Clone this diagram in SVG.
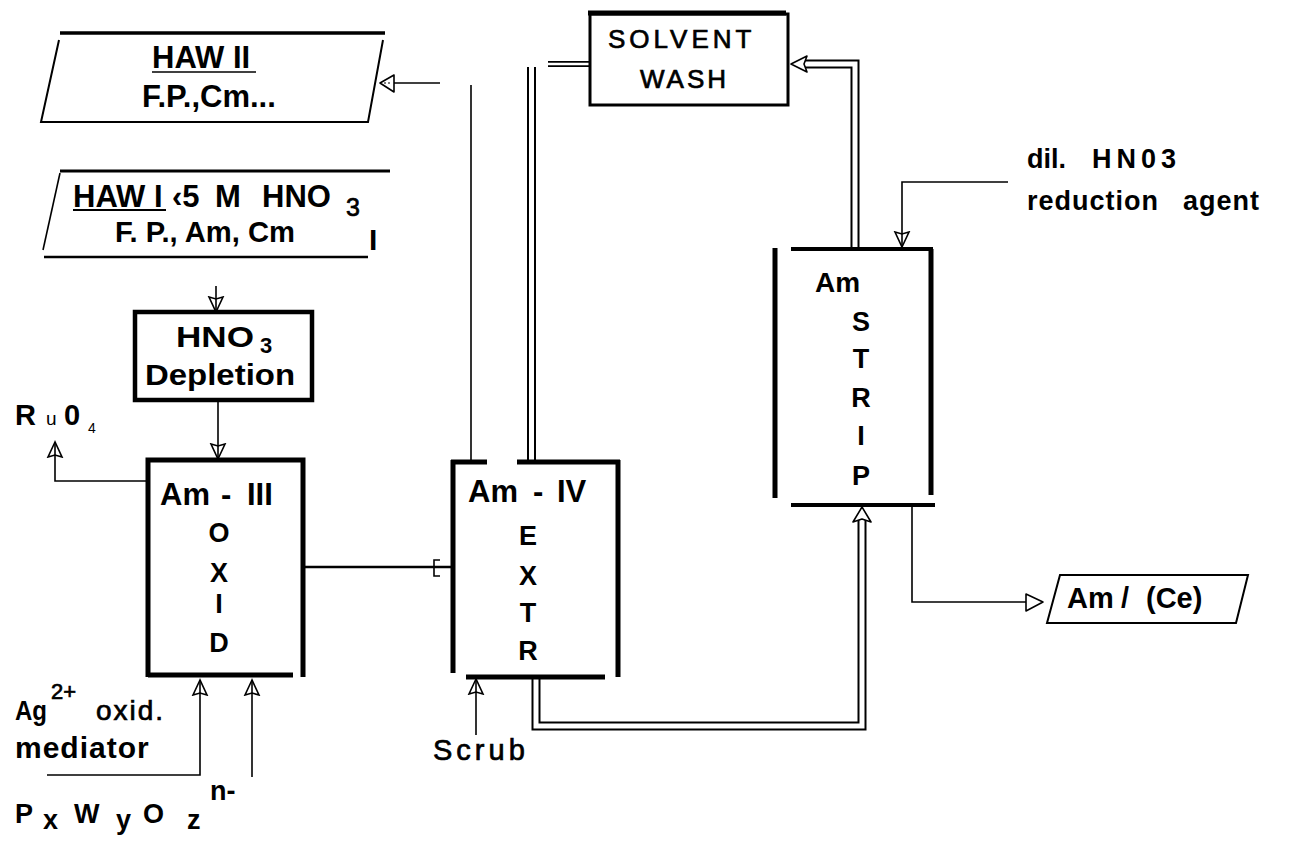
<svg xmlns="http://www.w3.org/2000/svg" width="1295" height="841" viewBox="0 0 1295 841">
<style>
text{font-family:"Liberation Sans",Arial,sans-serif;fill:#000}
.b{font-weight:bold;font-size:30px}
.r{font-weight:normal}
.m{stroke:#000;stroke-width:0.7}
.thin{fill:none;stroke:#000;stroke-width:1.6}
.thick{fill:none;stroke:#000;stroke-width:5}
.dblo{fill:none;stroke:#000;stroke-width:9}
.dbli{fill:none;stroke:#fff;stroke-width:5}
.head{fill:#fff;stroke:#000;stroke-width:1.6;stroke-linejoin:round}
</style>
<defs>
<marker id="v" markerUnits="userSpaceOnUse" markerWidth="20" markerHeight="20" refX="16" refY="8" orient="auto" viewBox="0 0 20 16">
<path d="M16,8 L1,1 L3,8 L1,15 Z" fill="none" stroke="#000" stroke-width="1.6"/>
</marker>
</defs>
<rect width="1295" height="841" fill="#fff"/>

<g id="connectors">
<line class="thin" x1="440" y1="83" x2="394" y2="83"/>
<polygon class="head" points="380,83 394,75 394,92"/>
<line x1="384" y1="83" x2="392" y2="83" stroke="#000" stroke-width="1" stroke-dasharray="2,2"/>
<line class="thin" x1="471" y1="85" x2="471" y2="462"/>
<line class="thin" x1="216" y1="286" x2="216" y2="312" marker-end="url(#v)"/>
<line class="thin" x1="218" y1="400" x2="218" y2="459" marker-end="url(#v)"/>
<path class="thin" d="M146,481 H55 V442" marker-end="url(#v)"/>
<line x1="303" y1="567" x2="452" y2="567" stroke="#000" stroke-width="2.5"/>
<path d="M440,560 L434,560 L434,576 L440,576 M434,567 L441,567" fill="none" stroke="#000" stroke-width="1.6"/>
<line class="dblo" x1="531.5" y1="67" x2="531.5" y2="462"/>
<line class="dbli" x1="531.5" y1="67" x2="531.5" y2="462"/>
<line x1="548" y1="64" x2="589" y2="64" stroke="#000" stroke-width="6"/>
<line x1="548" y1="64" x2="589" y2="64" stroke="#fff" stroke-width="2.6"/>
<path class="dblo" d="M855,248 V64 H804"/>
<path class="dbli" d="M855,250 V64 H804"/>
<polygon class="head" points="791,64 807,56 804,64 807,72"/>
<path class="thin" d="M1008,182 H902 V247" marker-end="url(#v)"/>
<path class="dblo" d="M536,678 V726 H862 V520"/>
<path class="dbli" d="M536,676 V726 H862 V518"/>
<polygon class="head" points="862,507 853,522 862,519 871,522"/>
<line class="thin" x1="476" y1="735" x2="476" y2="679" marker-end="url(#v)"/>
<path class="thin" d="M912,506 V602 H1026"/>
<polygon class="head" points="1043,602 1026,594 1026,611"/>
<path class="thin" d="M47,775 H200 V680" marker-end="url(#v)"/>
<line class="thin" x1="252" y1="777" x2="252" y2="680" marker-end="url(#v)"/>
</g>

<g id="haw2">
<line x1="60" y1="33" x2="385" y2="33" stroke="#000" stroke-width="3.5"/>
<path class="thin" d="M59,40 L41,122 L368,122 L383,40" style="stroke-width:2"/>
<text class="b" x="152" y="68" style="font-size:31px">HAW II</text>
<line x1="152" y1="72" x2="256" y2="72" stroke="#000" stroke-width="1.6"/>
<text class="b" x="142" y="107" style="font-size:31px">F.P.,Cm...</text>
</g>

<g id="haw1">
<line x1="60" y1="171" x2="390" y2="171" stroke="#000" stroke-width="3"/>
<line class="thin" x1="60" y1="173" x2="43" y2="250"/>
<line x1="44" y1="257" x2="368" y2="257" stroke="#000" stroke-width="2.5"/>
<text class="b" x="73" y="207" style="font-size:31px">HAW I</text>
<line x1="73" y1="210" x2="166" y2="210" stroke="#000" stroke-width="2"/>
<text class="b" y="207" style="font-size:31px"><tspan x="172">‹5</tspan><tspan x="215">M</tspan><tspan x="262">HNO</tspan></text>
<text class="m" x="346" y="216" style="font-size:25px">3</text>
<text class="b" x="115" y="242" style="font-size:30px" textLength="180" lengthAdjust="spacingAndGlyphs">F. P., Am, Cm</text>
<text class="b" x="369" y="250" style="font-size:30px">I</text>
</g>

<g id="depletion">
<rect x="135" y="312" width="177" height="88" fill="none" stroke="#000" stroke-width="4.5"/>
<text class="b" x="176" y="347" textLength="78" lengthAdjust="spacingAndGlyphs">HNO</text>
<text class="b" x="260" y="353" style="font-size:22px">3</text>
<text class="b" x="145" y="385" textLength="150" lengthAdjust="spacingAndGlyphs">Depletion</text>
</g>

<g id="ruo4">
<text class="b" y="425" style="font-size:29px"><tspan x="15">R</tspan><tspan x="46" class="r" style="font-size:19px">u</tspan><tspan x="64">0</tspan><tspan x="88" y="433" class="r" style="font-size:14px">4</tspan></text>
</g>

<g id="oxid">
<path class="thick" d="M148,677 V460 H303 V677"/>
<line x1="148" y1="675" x2="293" y2="675" stroke="#000" stroke-width="5"/>
<text class="b" y="505" style="font-size:31px"><tspan x="160">Am</tspan><tspan x="221">-</tspan><tspan x="247">III</tspan></text>
<g class="b" text-anchor="middle" style="font-size:27px">
<text x="219" y="542">O</text>
<text x="219" y="582">X</text>
<text x="219" y="613">I</text>
<text x="219" y="652">D</text>
</g>
</g>

<g id="extr">
<line x1="453" y1="460" x2="453" y2="673" stroke="#000" stroke-width="5"/>
<line x1="451" y1="462" x2="487" y2="462" stroke="#000" stroke-width="5"/>
<line x1="517" y1="462" x2="620" y2="462" stroke="#000" stroke-width="5"/>
<line x1="618" y1="460" x2="618" y2="677" stroke="#000" stroke-width="5"/>
<line x1="466" y1="677" x2="605" y2="677" stroke="#000" stroke-width="5"/>
<text class="b" y="502" style="font-size:31px"><tspan x="468">Am</tspan><tspan x="533">-</tspan><tspan x="557">IV</tspan></text>
<g class="b" text-anchor="middle" style="font-size:27px">
<text x="528" y="545">E</text>
<text x="528" y="585">X</text>
<text x="528" y="622">T</text>
<text x="528" y="660">R</text>
</g>
</g>

<g id="solvent-wash">
<rect x="590" y="14" width="198" height="91" fill="none" stroke="#000" stroke-width="3"/>
<line x1="588" y1="13" x2="786" y2="13" stroke="#000" stroke-width="5"/>
<text class="m" x="608" y="48" style="font-size:26px;letter-spacing:4px">SOLVENT</text>
<text class="m" x="640" y="88" style="font-size:26px;letter-spacing:3px">WASH</text>
</g>

<g id="strip">
<line x1="775" y1="248" x2="775" y2="498" stroke="#000" stroke-width="5"/>
<line x1="791" y1="249" x2="933" y2="249" stroke="#000" stroke-width="4"/>
<line x1="931" y1="249" x2="931" y2="495" stroke="#000" stroke-width="5"/>
<line x1="791" y1="505" x2="935" y2="505" stroke="#000" stroke-width="4"/>
<text class="b" x="815" y="292" style="font-size:28px">Am</text>
<g class="b" text-anchor="middle" style="font-size:27px">
<text x="861" y="331">S</text>
<text x="861" y="368">T</text>
<text x="861" y="407">R</text>
<text x="861" y="445">I</text>
<text x="861" y="485">P</text>
</g>
</g>

<g id="dil-hno3">
<text class="b" y="168" style="font-size:27px"><tspan x="1027">dil.</tspan><tspan x="1092" style="letter-spacing:5px">HN03</tspan></text>
<text class="b" y="210" style="font-size:27px;letter-spacing:1px"><tspan x="1027">reduction</tspan><tspan x="1183">agent</tspan></text>
</g>

<g id="am-ce">
<polygon points="1060,575 1248,575 1236,623 1047,623" fill="none" stroke="#000" stroke-width="2"/>
<text class="b" y="608" style="font-size:29px"><tspan x="1067">Am</tspan><tspan x="1121">/</tspan><tspan x="1146">(Ce)</tspan></text>
</g>

<g id="scrub">
<text class="m" x="433" y="760" style="font-size:29px;letter-spacing:4px">Scrub</text>
</g>

<g id="ag-mediator">
<text class="b" x="15" y="720" style="font-size:28px" textLength="32" lengthAdjust="spacingAndGlyphs">Ag</text>
<text class="m" x="51" y="699" style="font-size:22px">2+</text>
<text class="m" x="96" y="720" style="font-size:28px;letter-spacing:2px">oxid.</text>
<text class="b" x="15" y="758" style="font-size:30px;letter-spacing:1px">mediator</text>
</g>

<g id="pxwyoz">
<text class="b" style="font-size:27px">
<tspan x="15" y="823">P</tspan>
<tspan x="43" y="829">x</tspan>
<tspan x="74" y="823">W</tspan>
<tspan x="116" y="829">y</tspan>
<tspan x="143" y="823">O</tspan>
<tspan x="187" y="829">z</tspan>
<tspan x="210" y="800">n-</tspan>
</text>
</g>
</svg>
